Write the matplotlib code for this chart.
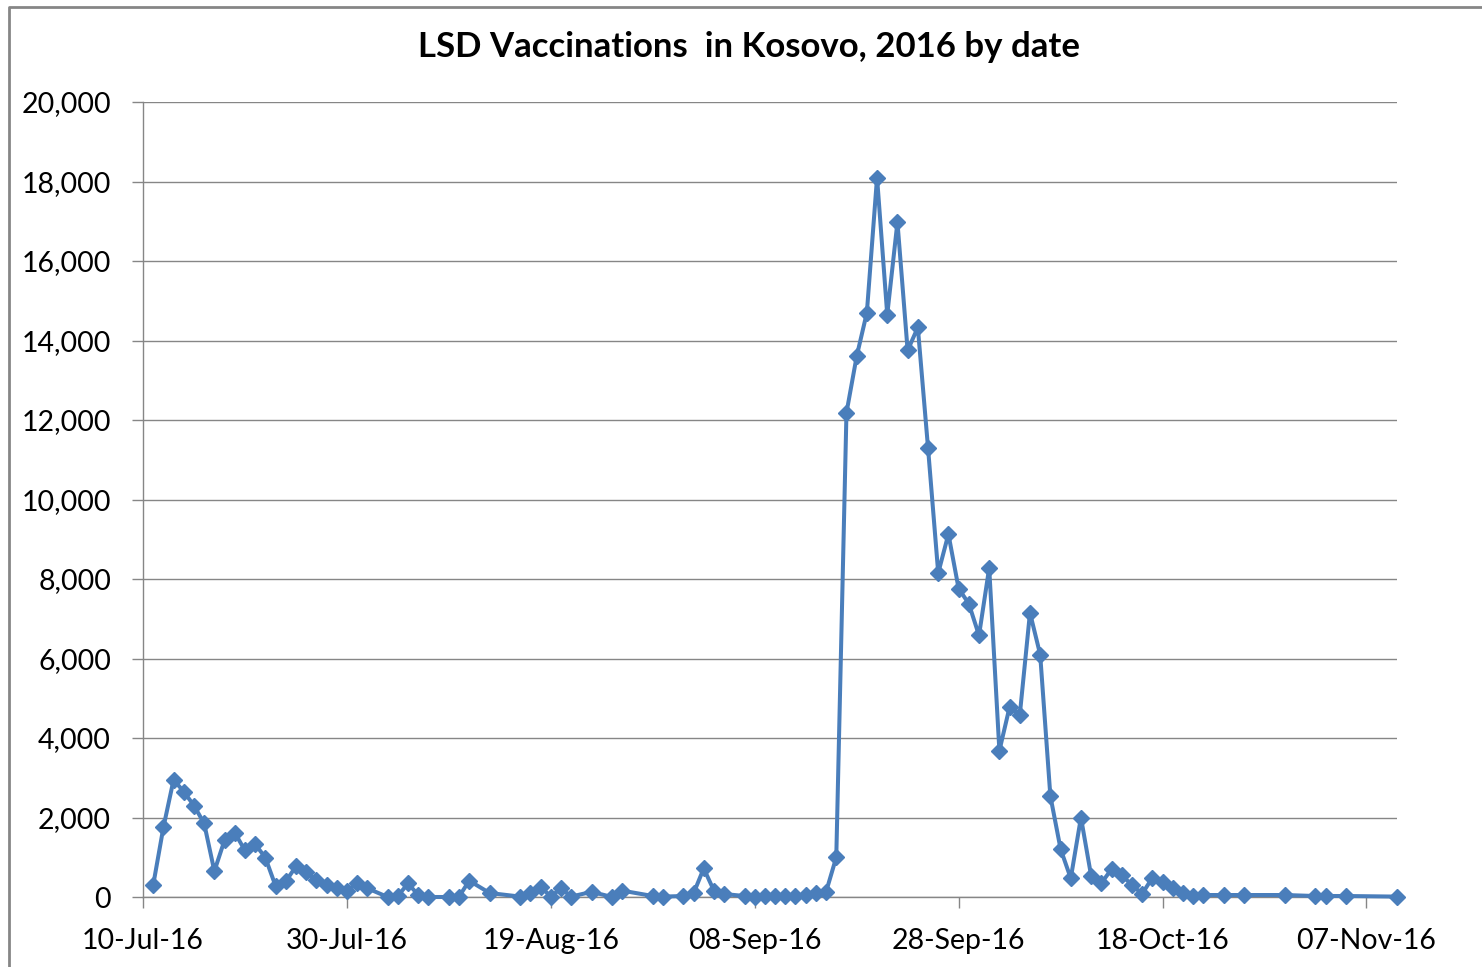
import matplotlib
matplotlib.use('Agg')
import matplotlib.pyplot as plt
import matplotlib.dates as mdates
from matplotlib.lines import Line2D
from matplotlib.ticker import FuncFormatter
import pandas as pd

# days after 10-Jul-2016 and vaccinations on that day
days = [1, 2, 3, 4, 5, 6, 7, 8, 9, 10, 11, 12, 13, 14, 15, 16, 17, 18, 19, 20,
        21, 22, 24, 25, 26, 27, 28, 30, 31, 32, 34, 37, 38, 39, 40, 41, 42, 44,
        46, 47, 50, 51, 53, 54, 55, 56, 57, 59, 60, 61, 62, 63, 64, 65, 66, 67,
        68, 69, 70, 71, 72, 73, 74, 75, 76, 77, 78, 79, 80, 81, 82, 83, 84, 85,
        86, 87, 88, 89, 90, 91, 92, 93, 94, 95, 96, 97, 98, 99, 100, 101, 102,
        103, 104, 106, 108, 112, 115, 116, 118, 123]
vaccinations = [300, 1750, 2950, 2650, 2300, 1850, 650, 1430, 1620, 1170, 1330,
                990, 280, 390, 770, 620, 430, 300, 220, 160, 340, 220, 0, 30,
                340, 50, 0, 0, 10, 410, 100, 10, 90, 260, 10, 220, 10, 130, 0,
                160, 25, 10, 25, 90, 720, 160, 75, 25, 10, 25, 25, 25, 25, 50,
                90, 130, 1000, 12180, 13600, 14700, 18100, 14650, 16980, 13750,
                14330, 11300, 8150, 9130, 7760, 7380, 6580, 8280, 3680, 4780,
                4580, 7150, 6100, 2540, 1210, 470, 2000, 530, 350, 700, 550,
                300, 80, 480, 380, 220, 90, 25, 50, 50, 50, 50, 25, 25, 25, 10]

start = pd.Timestamp('2016-07-10')
end = pd.Timestamp('2016-11-10')
tick_labels = ['10-Jul-16', '30-Jul-16', '19-Aug-16', '08-Sep-16',
               '28-Sep-16', '18-Oct-16', '07-Nov-16']
y_ticks = [0, 2000, 4000, 6000, 8000, 10000, 12000, 14000, 16000, 18000, 20000]

dates = start + pd.to_timedelta(days, unit='D')
tick_dates = pd.to_datetime(tick_labels, format='%d-%b-%y')

plt.rcParams['font.family'] = ['Lato', 'DejaVu Sans']
W, H = 1482, 967
fig = plt.figure(figsize=(W / 100, H / 100), dpi=100)
ax = fig.add_axes([143 / W, 1 - 897 / H, (1397 - 143) / W, (897 - 102) / H])

grey = '#868686'
ax.plot(dates, vaccinations, color='#4a7ebb', lw=2.9, marker='D', ms=8.3,
        mec='#4a7ebb', clip_on=False, zorder=3)

ax.set_xlim(start, end)
ax.set_ylim(0, 20000)
ax.set_xticks(tick_dates)
ax.xaxis.set_major_formatter(mdates.DateFormatter('%d-%b-%y'))
ax.set_yticks(y_ticks)
ax.yaxis.set_major_formatter(FuncFormatter(lambda v, p: f'{int(v):,}'))
ax.grid(axis='y', color=grey, lw=1.0)
ax.set_axisbelow(True)
for s in ['top', 'right']:
    ax.spines[s].set_visible(False)
for s in ['left', 'bottom']:
    ax.spines[s].set_color(grey)
    ax.spines[s].set_linewidth(1.0)
ax.tick_params(axis='both', direction='out', length=8, width=1.0, color=grey,
               labelsize=20.5, labelcolor='black')
ax.tick_params(axis='y', pad=15)
ax.tick_params(axis='x', pad=14)

fig.text(749 / W, 1 - 47 / H, 'LSD Vaccinations  in Kosovo, 2016 by date',
         ha='center', va='center', fontsize=25, fontweight='bold')

# chart area frame (only top and left edges visible)
fig.add_artist(Line2D([9 / W, 9 / W, 1.0], [0.0, 1 - 7 / H, 1 - 7 / H],
                      transform=fig.transFigure, color=grey, lw=2))

fig.savefig('out.png', dpi=100)
